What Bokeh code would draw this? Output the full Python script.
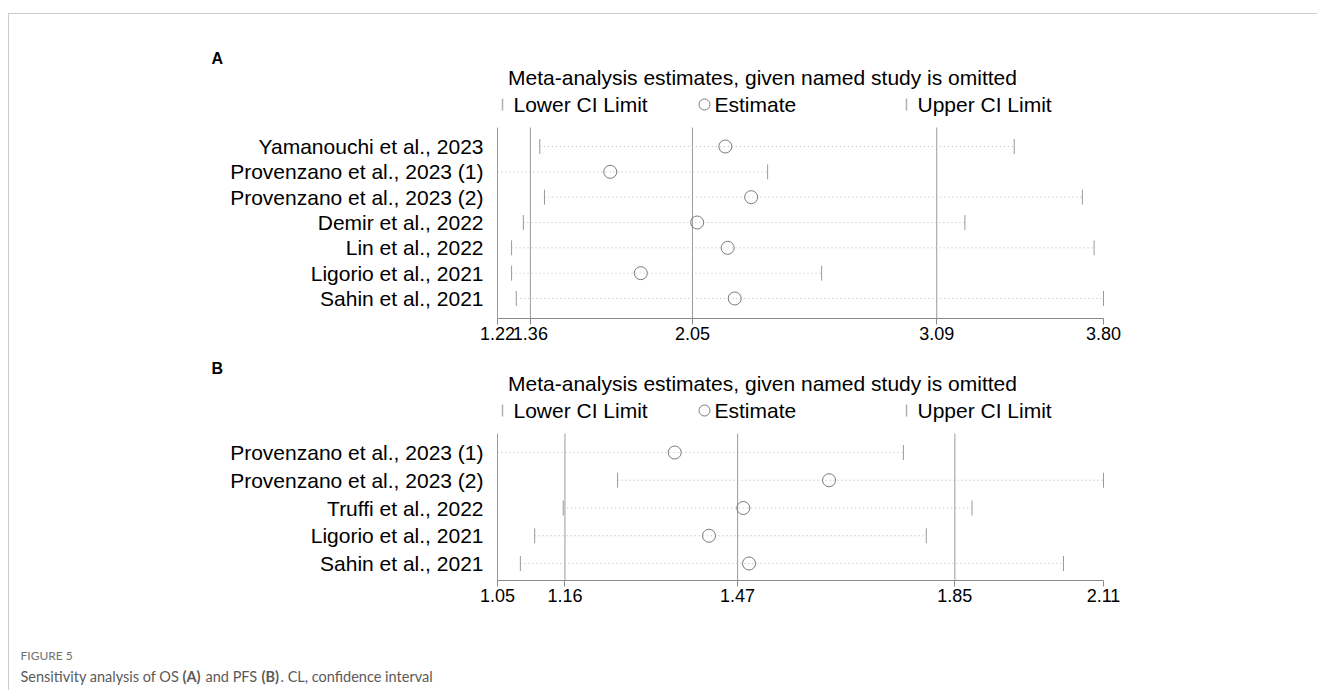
import numpy as np
from bokeh.plotting import figure
from bokeh.models import Range1d, FixedTicker
from bokeh.layouts import column
from bokeh.embed import file_html
from bokeh.resources import INLINE
from bokeh.core.properties import value

# ---------------- data ----------------
studies_a = ["Yamanouchi et al., 2023", "Provenzano et al., 2023 (1)", "Provenzano et al., 2023 (2)",
             "Demir et al., 2022", "Lin et al., 2022", "Ligorio et al., 2021", "Sahin et al., 2021"]
lower_a = [1.40, 1.22, 1.42, 1.33, 1.28, 1.28, 1.30]
est_a = [2.19, 1.70, 2.30, 2.07, 2.20, 1.83, 2.23]
upper_a = [3.42, 2.37, 3.71, 3.21, 3.76, 2.60, 3.80]
overall_a = [1.36, 2.05, 3.09]
ticks_a = [1.22, 1.36, 2.05, 3.09, 3.80]
tick_labels_a = ["1.22", "1.36", "2.05", "3.09", "3.80"]

studies_b = ["Provenzano et al., 2023 (1)", "Provenzano et al., 2023 (2)", "Truffi et al., 2022",
             "Ligorio et al., 2021", "Sahin et al., 2021"]
lower_b = [1.05, 1.26, 1.165, 1.115, 1.09]
est_b = [1.36, 1.63, 1.48, 1.42, 1.49]
upper_b = [1.76, 2.11, 1.88, 1.80, 2.04]
overall_b = [1.168, 1.47, 1.85]
ticks_b = [1.05, 1.168, 1.47, 1.85, 2.11]
tick_labels_b = ["1.05", "1.16", "1.47", "1.85", "2.11"]

title_text = "Meta-analysis estimates, given named study is omitted"
legend_texts = ["Lower CI Limit", "Estimate", "Upper CI Limit"]

# ---------------- layout ----------------
PAGE_L = 9      # page x of the figures' left edge (after margin + border)
PAGE_T = 14     # page y of the first figure's top edge
W = 1308
AX_L, AX_R = 497, 1103
FONT = value("Liberation Sans")
GRAY = "#9a9a9a"
LBL_SIZE = "21px"


def panel(label, studies, lower, est, upper, overall, ticks, tick_labels,
          top_px, frame_bottom_px, row0_px, row_step, vtop_px, label_y, title_y, legend_y):
    height = frame_bottom_px - top_px + 40
    lo, hi = ticks[0], ticks[-1]
    k = (AX_R - AX_L) / (hi - lo)
    x0 = lo - (AX_L - PAGE_L) / k
    x1 = hi + (PAGE_L + W - AX_R) / k
    p = figure(width=W, height=height, x_range=Range1d(x0, x1),
               y_range=Range1d(frame_bottom_px, top_px),
               output_backend="svg", toolbar_location=None, y_axis_location=None,
               min_border=0, min_border_bottom=40)
    p.extra_x_ranges = {"px": Range1d(PAGE_L, PAGE_L + W)}
    p.extra_y_ranges = {"rows": Range1d((frame_bottom_px - row0_px) / row_step,
                                        (top_px - row0_px) / row_step)}
    p.grid.visible = False
    p.outline_line_color = None
    p.background_fill_color = "white"
    p.border_fill_color = "white"

    ax = p.xaxis[0]
    ax.ticker = FixedTicker(ticks=ticks)
    ax.major_label_overrides = {t: l for t, l in zip(ticks, tick_labels)}
    ax.bounds = (lo, hi)
    ax.axis_line_color = "#8a8a8a"
    ax.major_tick_line_color = "#8a8a8a"
    ax.major_tick_out = 6
    ax.major_tick_in = 0
    ax.minor_tick_line_color = None
    ax.major_label_text_font = "Liberation Sans"
    ax.major_label_text_font_size = "18px"
    ax.major_label_text_color = "black"
    ax.major_label_standoff = 2

    n = len(studies)
    idx = list(range(n))
    vtop = (vtop_px - row0_px) / row_step
    vbot = (frame_bottom_px - row0_px) / row_step

    # reference vertical lines (axis-left line + overall lower / estimate / upper)
    vx = [lo] + overall
    p.segment(x0=vx, x1=vx, y0=[vtop] * len(vx), y1=[vbot] * len(vx),
              y_range_name="rows", line_color=GRAY, line_width=1)

    # dotted CI lines
    p.segment(x0=lower, x1=upper, y0=idx, y1=idx, y_range_name="rows",
              line_color="#b8b8b8", line_width=1, line_dash="1 3")
    # CI end bars
    p.scatter(x=lower, y=idx, y_range_name="rows", marker="dash", angle=np.pi / 2,
              size=15, line_color=GRAY, line_width=1)
    p.scatter(x=upper, y=idx, y_range_name="rows", marker="dash", angle=np.pi / 2,
              size=15, line_color=GRAY, line_width=1)
    # estimates
    p.scatter(x=est, y=idx, y_range_name="rows", marker="circle", size=13,
              fill_color=None, line_color="#7a7a7a", line_width=1)

    # study labels
    p.text(x=[483] * n, y=idx, text=studies, x_range_name="px", y_range_name="rows",
           text_align="right", text_baseline="middle", text_font=FONT,
           text_font_size=LBL_SIZE, text_color="black")

    # panel letter
    p.text(x=[211], y=[label_y], text=[label], x_range_name="px",
           text_align="left", text_baseline="middle", text_font=FONT,
           text_font_size="16px", text_font_style="bold", text_color="black")
    # title
    p.text(x=[762], y=[title_y], text=[title_text], x_range_name="px",
           text_align="center", text_baseline="middle", text_font=FONT,
           text_font_size=LBL_SIZE, text_color="black")
    # legend
    key_x = [502, 704, 906]
    txt_x = [513, 714, 917]
    p.scatter(x=[key_x[0], key_x[2]], y=[legend_y, legend_y], x_range_name="px",
              marker="dash", angle=np.pi / 2, size=12, line_color="#b0b0b0", line_width=1.5)
    p.scatter(x=[key_x[1]], y=[legend_y], x_range_name="px", marker="circle", size=11,
              fill_color=None, line_color="#7a7a7a", line_width=1)
    p.text(x=txt_x, y=[legend_y] * 3, text=legend_texts, x_range_name="px",
           text_align="left", text_baseline="middle", text_font=FONT,
           text_font_size=LBL_SIZE, text_color="black")
    return p


pA = panel("A", studies_a, lower_a, est_a, upper_a, overall_a, ticks_a, tick_labels_a,
           top_px=PAGE_T, frame_bottom_px=318, row0_px=146, row_step=25.33, vtop_px=127,
           label_y=58, title_y=77, legend_y=104)

pB = panel("B", studies_b, lower_b, est_b, upper_b, overall_b, ticks_b, tick_labels_b,
           top_px=358, frame_bottom_px=580, row0_px=452, row_step=27.75, vtop_px=433,
           label_y=368, title_y=383, legend_y=410)

# caption
pC = figure(width=W, height=70, x_range=Range1d(PAGE_L, PAGE_L + W), y_range=Range1d(690, 620),
            output_backend="svg", toolbar_location=None, x_axis_location=None,
            y_axis_location=None, min_border=0)
pC.grid.visible = False
pC.outline_line_color = None
cap_font = value("Lato")
pC.text(x=[20], y=[655], text=["FIGURE 5"], text_font=cap_font, text_font_size="12px",
        text_color="#707070", text_baseline="middle")
cap_parts = ["Sensitivity analysis of OS", "(A)", "and PFS", "(B)", ". CL, confidence interval"]
cap_x = [20, 182, 205, 261, 280]
cap_bold = [False, True, False, True, False]
for t, xx, b in zip(cap_parts, cap_x, cap_bold):
    pC.text(x=[xx], y=[676], text=[t], text_font=cap_font, text_font_size="14.5px",
            text_color="#5a5a5a", text_baseline="middle",
            text_font_style="bold" if b else "normal")

layout = column(pA, pB, pC, styles={"margin-left": "8px", "margin-top": "13px",
                                    "border-left": "1px solid #cccccc",
                                    "border-top": "1px solid #cccccc"})

open("out.html", "w").write(file_html(layout, INLINE))
